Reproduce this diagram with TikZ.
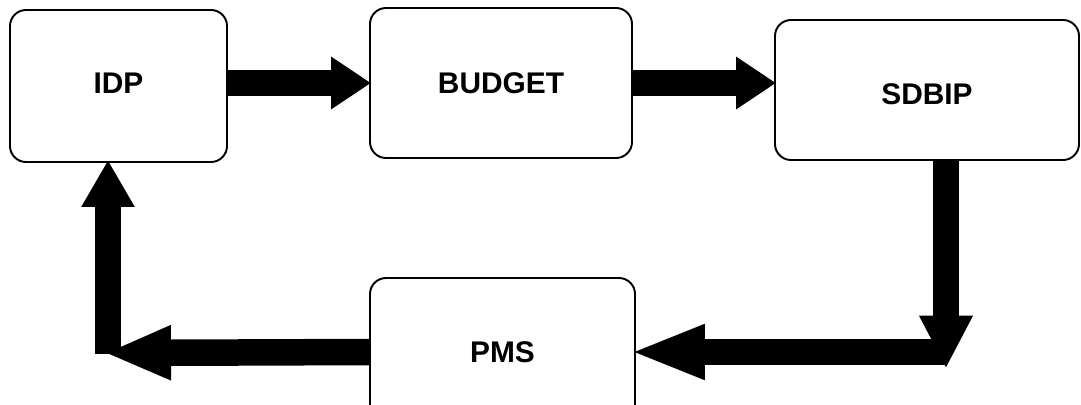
\documentclass[tikz,border=0pt]{standalone}
\usepackage{fontspec}
\setmainfont{Liberation Sans}
\usetikzlibrary{arrows.meta}
\tikzset{
  stage/.style={draw,line width=1.1pt,rounded corners=0.32cm,font=\fontsize{17}{20}\selectfont\bfseries},
  bigarrow/.style={line width=0.53cm,-{Triangle[length=#1,width=1cm]}},
  bigarrow/.default=0.8cm
}
\begin{document}
\begin{tikzpicture}
\useasboundingbox (0,0) rectangle (21.62,-8.08);
\clip (0,0) rectangle (21.62,-8.08);
\node[stage,minimum width=4.34cm,minimum height=3.04cm,text depth=3.4pt] (idp) at (2.37,-1.72) {IDP};
\node[stage,minimum width=5.24cm,minimum height=3.0cm] (budget) at (10.02,-1.66) {BUDGET};
\node[stage,minimum width=6.08cm,minimum height=2.8cm,text height=17pt] (sdbip) at (18.54,-1.8) {SDBIP};
\node[stage,minimum width=5.3cm,minimum height=2.96cm] (pms) at (10.05,-7.04) {PMS};
\coordinate (down) at ([xshift=0.38cm]sdbip.south);
\coordinate (turnR) at (down |- pms);
\coordinate (turnL) at (2.16,-7.06);
\draw[bigarrow] (budget.west -| idp.east) -- ([xshift=0.04cm]budget.west);
\draw[bigarrow] (budget.east) -- ([xshift=0.04cm]budget.east -| sdbip.west);
\draw[bigarrow=1.06cm] (down) -- ([yshift=-0.33cm]turnR);
\draw[bigarrow=1.5cm] (turnR) -- ([xshift=-0.12cm]pms.east);
\draw[bigarrow=1.34cm] (pms.west) -- ([xshift=-0.08cm]turnL);
\draw[bigarrow=0.94cm] ([yshift=-0.02cm]turnL) -- ([yshift=0.06cm]turnL |- idp.south);
\end{tikzpicture}
\end{document}
